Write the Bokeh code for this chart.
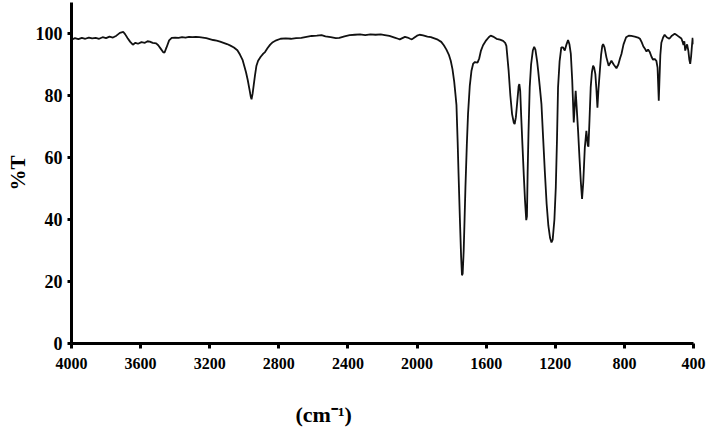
from bokeh.plotting import figure
from bokeh.models import Range1d, FixedTicker, Title
from bokeh.embed import file_html
from bokeh.resources import INLINE

# ---- data ----
wavenumber = [
    4000, 3980, 3960, 3940, 3920, 3900, 3880, 3860, 3840, 3820, 3800, 3780, 3760, 3740,
    3720, 3700, 3690, 3675, 3660, 3645, 3630, 3615, 3595, 3575, 3560, 3547, 3530, 3510,
    3498, 3485, 3470, 3462, 3450, 3435, 3420, 3400, 3380, 3360, 3340, 3320, 3300, 3280,
    3260, 3240, 3220, 3200, 3180, 3160, 3140, 3120, 3100, 3080, 3060, 3040, 3025, 3010,
    3000, 2990, 2980, 2970, 2962, 2958, 2952, 2945, 2938, 2930, 2920, 2905, 2890, 2880,
    2865, 2850, 2835, 2815, 2790, 2760, 2730, 2700, 2670, 2640, 2610, 2580, 2553, 2530,
    2500, 2470, 2450, 2420, 2390, 2360, 2330, 2300, 2270, 2240, 2210, 2187, 2160, 2130,
    2110, 2100, 2085, 2070, 2055, 2040, 2030, 2015, 2000, 1985, 1965, 1940, 1920, 1900,
    1880, 1860, 1845, 1830, 1815, 1805, 1795, 1785, 1778, 1772, 1765, 1760, 1752, 1745,
    1740, 1736, 1730, 1725, 1720, 1712, 1705, 1695, 1685, 1675, 1665, 1650, 1640, 1630,
    1618, 1600, 1585, 1574, 1560, 1540, 1520, 1502, 1490, 1483, 1470, 1460, 1450, 1440,
    1435, 1428, 1420, 1412, 1408, 1403, 1397, 1390, 1382, 1375, 1368, 1364, 1360, 1355,
    1348, 1340, 1330, 1322, 1315, 1305, 1299, 1290, 1280, 1270, 1260, 1250, 1240, 1230,
    1222, 1215, 1205, 1197, 1190, 1184, 1175, 1165, 1155, 1145, 1135, 1126, 1118, 1110,
    1102, 1093, 1088, 1082, 1076, 1068, 1060, 1052, 1045, 1038, 1029, 1020, 1012, 1008,
    1002, 995, 988, 981, 975, 968, 962, 956, 950, 942, 935, 928, 923, 915,
    904, 891, 882, 875, 862, 846, 835, 825, 817, 805, 790, 775, 760, 740,
    721, 710, 700, 690, 680, 672, 663, 653, 643, 634, 625, 615, 608, 604,
    601, 597, 592, 586, 576, 567, 555, 540, 525, 509, 495, 480, 470, 463,
    458, 453, 448, 443, 437, 430, 424, 419, 414, 409, 405, 402, 400,
]
transmittance = [
    98.0, 98.5, 98.2, 98.6, 98.3, 98.7, 98.4, 98.6, 98.3, 98.8, 98.5, 99.0, 98.7, 99.3,
    100.2, 100.5, 99.8, 98.5, 97.3, 96.4, 97.0, 96.7, 97.2, 97.0, 97.5, 97.4, 97.0, 96.8,
    96.2, 95.2, 94.0, 93.8, 95.5, 97.8, 98.6, 98.7, 98.6, 98.8, 98.7, 98.9, 98.8, 98.9,
    98.8, 98.7, 98.5, 98.2, 97.9, 97.7, 97.4, 97.0, 96.6, 96.1, 95.5, 94.6, 93.2, 91.5,
    89.5, 87.5, 85.0, 82.0, 79.5, 78.8, 80.5, 83.5, 86.5, 89.5, 91.2, 92.5, 93.5, 94.0,
    95.3, 96.4, 97.2, 97.8, 98.3, 98.4, 98.3, 98.5, 98.6, 98.9, 99.2, 99.3, 99.5, 99.1,
    98.8, 98.5, 98.6, 99.1, 99.5, 99.6, 99.7, 99.5, 99.7, 99.6, 99.7, 99.5, 99.2, 98.7,
    98.3, 98.1, 98.5, 98.9, 98.7, 98.3, 98.1, 98.7, 99.3, 99.6, 99.4, 99.0, 98.8, 98.4,
    98.0, 97.3, 96.2, 94.8, 93.0, 91.2, 88.5, 84.5, 80.5, 77.0, 65.0, 55.0, 40.0, 28.0,
    22.0, 22.5, 30.0, 40.0, 50.3, 64.0, 74.0, 83.0, 88.0, 90.3, 90.8, 90.6, 92.0, 94.5,
    96.2, 97.8, 98.8, 99.3, 99.0, 98.3, 98.0, 97.6, 97.0, 96.0, 88.0, 80.0, 74.0, 71.2,
    70.8, 73.0, 78.0, 83.0, 83.7, 81.5, 73.0, 64.0, 54.0, 46.0, 39.8, 41.0, 55.0, 68.0,
    82.6, 90.0, 94.5, 95.7, 94.8, 91.0, 88.0, 83.0, 77.2, 66.0, 55.0, 45.0, 38.0, 34.0,
    32.6, 33.5, 40.0, 50.3, 66.0, 82.6, 91.0, 95.5, 95.5, 94.5, 96.5, 97.9, 96.5, 93.4,
    85.0, 71.3, 76.0, 81.5, 76.0, 68.6, 60.0, 52.0, 46.6, 52.0, 63.2, 68.6, 64.0, 63.5,
    72.0, 82.6, 87.5, 89.6, 89.0, 86.9, 82.0, 76.1, 82.0, 88.0, 93.0, 96.0, 96.6, 95.5,
    92.3, 89.6, 90.5, 91.2, 90.0, 88.8, 90.0, 92.0, 93.4, 96.5, 98.8, 99.3, 99.2, 99.0,
    98.7, 98.3, 97.2, 95.8, 95.0, 94.2, 94.8, 94.0, 92.5, 91.5, 91.8, 91.2, 89.0, 83.0,
    78.3, 85.0, 93.0, 97.0, 98.7, 99.6, 98.8, 98.3, 99.3, 99.9, 99.4, 98.8, 98.4, 97.3,
    96.3, 97.5, 94.5, 95.5, 96.5, 94.5, 91.5, 90.2, 92.5, 96.0, 98.6, 97.8, 96.5,
]
x_ticks = [4000, 3600, 3200, 2800, 2400, 2000, 1600, 1200, 800, 400]
y_ticks = [0, 20, 40, 60, 80, 100]
y_title = "%T"
x_title = "(cm\u207b\u00b9)"

FONT = "Liberation Serif"

p = figure(
    width=709, height=430,
    x_range=Range1d(4000, 400), y_range=Range1d(0, 110),
    output_backend="svg", toolbar_location=None,
    min_border_left=71, min_border_right=16, min_border_top=2, min_border_bottom=87,
)
p.outline_line_color = None
p.xgrid.visible = False
p.ygrid.visible = False
p.background_fill_color = "white"
p.border_fill_color = "white"

p.line(wavenumber, transmittance, line_color="#111111", line_width=1.8)

for ax in (p.xaxis[0], p.yaxis[0]):
    ax.axis_line_color = "black"
    ax.axis_line_width = 3
    ax.major_tick_line_color = "black"
    ax.major_tick_line_width = 3
    ax.major_tick_in = 0
    ax.minor_tick_line_color = None
    ax.major_label_text_font = FONT
    ax.major_label_text_font_style = "bold"
    ax.major_label_text_color = "black"

p.xaxis[0].ticker = FixedTicker(ticks=x_ticks)
p.xaxis[0].major_tick_out = 5
p.xaxis[0].major_label_standoff = 9
p.xaxis[0].major_label_text_font_size = "16px"

p.yaxis[0].ticker = FixedTicker(ticks=y_ticks)
p.yaxis[0].major_tick_out = 4
p.yaxis[0].major_label_standoff = 5
p.yaxis[0].major_label_text_font_size = "18px"
p.yaxis[0].axis_label = y_title
p.yaxis[0].axis_label_text_font = FONT
p.yaxis[0].axis_label_text_font_style = "bold"
p.yaxis[0].axis_label_text_font_size = "21px"
p.yaxis[0].axis_label_text_color = "black"
p.yaxis[0].axis_label_standoff = 3

# spacer between tick labels and the x title
spacer = Title(text=" ", standoff=0, text_font=FONT, text_font_size="24px")
p.add_layout(spacer, "below")
# x title, placed left of centre as in the reference
t = Title(text=x_title, align="left", offset=224, standoff=0, vertical_align="bottom",
          text_font=FONT, text_font_style="bold", text_font_size="22px",
          text_color="black")
p.add_layout(t, "below")

open("out.html", "w").write(file_html(p, INLINE))
